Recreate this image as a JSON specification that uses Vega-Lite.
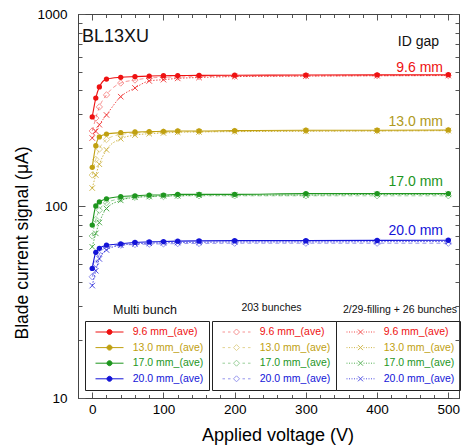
{
  "$schema": "https://vega.github.io/schema/vega-lite/v6.json",
  "width": 381,
  "height": 384,
  "autosize": {"type": "none"},
  "padding": {"left": 78, "top": 14, "right": 4, "bottom": 48},
  "config": {"view": {"stroke": "#444"}, "font": "Liberation Sans"},
  "datasets": {
    "d": [
      {"g":"M","k":"9.6 mm_(ave)","v":0,"y":291},{"g":"M","k":"9.6 mm_(ave)","v":5,"y":365},{"g":"M","k":"9.6 mm_(ave)","v":10,"y":417},{"g":"M","k":"9.6 mm_(ave)","v":20,"y":458},{"g":"M","k":"9.6 mm_(ave)","v":40,"y":468},{"g":"M","k":"9.6 mm_(ave)","v":60,"y":472},{"g":"M","k":"9.6 mm_(ave)","v":80,"y":475},{"g":"M","k":"9.6 mm_(ave)","v":100,"y":477},{"g":"M","k":"9.6 mm_(ave)","v":120,"y":478},{"g":"M","k":"9.6 mm_(ave)","v":150,"y":479},{"g":"M","k":"9.6 mm_(ave)","v":200,"y":480},{"g":"M","k":"9.6 mm_(ave)","v":300,"y":481},{"g":"M","k":"9.6 mm_(ave)","v":400,"y":482},{"g":"M","k":"9.6 mm_(ave)","v":500,"y":483},
      {"g":"M","k":"13.0 mm_(ave)","v":0,"y":159},{"g":"M","k":"13.0 mm_(ave)","v":5,"y":206},{"g":"M","k":"13.0 mm_(ave)","v":10,"y":229},{"g":"M","k":"13.0 mm_(ave)","v":20,"y":237},{"g":"M","k":"13.0 mm_(ave)","v":40,"y":241},{"g":"M","k":"13.0 mm_(ave)","v":60,"y":243},{"g":"M","k":"13.0 mm_(ave)","v":80,"y":244},{"g":"M","k":"13.0 mm_(ave)","v":100,"y":245},{"g":"M","k":"13.0 mm_(ave)","v":120,"y":246},{"g":"M","k":"13.0 mm_(ave)","v":150,"y":246},{"g":"M","k":"13.0 mm_(ave)","v":200,"y":247},{"g":"M","k":"13.0 mm_(ave)","v":300,"y":248},{"g":"M","k":"13.0 mm_(ave)","v":400,"y":248},{"g":"M","k":"13.0 mm_(ave)","v":500,"y":249},
      {"g":"M","k":"17.0 mm_(ave)","v":0,"y":79.6},{"g":"M","k":"17.0 mm_(ave)","v":5,"y":100},{"g":"M","k":"17.0 mm_(ave)","v":10,"y":105},{"g":"M","k":"17.0 mm_(ave)","v":20,"y":109},{"g":"M","k":"17.0 mm_(ave)","v":40,"y":112},{"g":"M","k":"17.0 mm_(ave)","v":60,"y":113},{"g":"M","k":"17.0 mm_(ave)","v":80,"y":114},{"g":"M","k":"17.0 mm_(ave)","v":100,"y":114},{"g":"M","k":"17.0 mm_(ave)","v":120,"y":115},{"g":"M","k":"17.0 mm_(ave)","v":150,"y":115},{"g":"M","k":"17.0 mm_(ave)","v":200,"y":115},{"g":"M","k":"17.0 mm_(ave)","v":300,"y":116},{"g":"M","k":"17.0 mm_(ave)","v":400,"y":116},{"g":"M","k":"17.0 mm_(ave)","v":500,"y":116},
      {"g":"M","k":"20.0 mm_(ave)","v":0,"y":47.3},{"g":"M","k":"20.0 mm_(ave)","v":5,"y":57.4},{"g":"M","k":"20.0 mm_(ave)","v":10,"y":60.2},{"g":"M","k":"20.0 mm_(ave)","v":20,"y":62.5},{"g":"M","k":"20.0 mm_(ave)","v":40,"y":63.5},{"g":"M","k":"20.0 mm_(ave)","v":60,"y":64.6},{"g":"M","k":"20.0 mm_(ave)","v":80,"y":65},{"g":"M","k":"20.0 mm_(ave)","v":100,"y":65.3},{"g":"M","k":"20.0 mm_(ave)","v":120,"y":65.6},{"g":"M","k":"20.0 mm_(ave)","v":150,"y":65.8},{"g":"M","k":"20.0 mm_(ave)","v":200,"y":66},{"g":"M","k":"20.0 mm_(ave)","v":300,"y":66},{"g":"M","k":"20.0 mm_(ave)","v":400,"y":66.2},{"g":"M","k":"20.0 mm_(ave)","v":500,"y":66.3},
      {"g":"D","k":"9.6 mm_(ave)","v":0,"y":246},{"g":"D","k":"9.6 mm_(ave)","v":5,"y":287},{"g":"D","k":"9.6 mm_(ave)","v":10,"y":328},{"g":"D","k":"9.6 mm_(ave)","v":20,"y":379},{"g":"D","k":"9.6 mm_(ave)","v":40,"y":437},{"g":"D","k":"9.6 mm_(ave)","v":60,"y":453},{"g":"D","k":"9.6 mm_(ave)","v":80,"y":464},{"g":"D","k":"9.6 mm_(ave)","v":100,"y":468},{"g":"D","k":"9.6 mm_(ave)","v":120,"y":470},{"g":"D","k":"9.6 mm_(ave)","v":150,"y":472},{"g":"D","k":"9.6 mm_(ave)","v":200,"y":474},{"g":"D","k":"9.6 mm_(ave)","v":300,"y":476},{"g":"D","k":"9.6 mm_(ave)","v":400,"y":477},{"g":"D","k":"9.6 mm_(ave)","v":500,"y":478},
      {"g":"D","k":"13.0 mm_(ave)","v":0,"y":145},{"g":"D","k":"13.0 mm_(ave)","v":5,"y":175},{"g":"D","k":"13.0 mm_(ave)","v":10,"y":198},{"g":"D","k":"13.0 mm_(ave)","v":20,"y":222},{"g":"D","k":"13.0 mm_(ave)","v":40,"y":236},{"g":"D","k":"13.0 mm_(ave)","v":60,"y":240},{"g":"D","k":"13.0 mm_(ave)","v":80,"y":242},{"g":"D","k":"13.0 mm_(ave)","v":100,"y":243},{"g":"D","k":"13.0 mm_(ave)","v":120,"y":244},{"g":"D","k":"13.0 mm_(ave)","v":150,"y":244},{"g":"D","k":"13.0 mm_(ave)","v":200,"y":245},{"g":"D","k":"13.0 mm_(ave)","v":300,"y":246},{"g":"D","k":"13.0 mm_(ave)","v":400,"y":246},{"g":"D","k":"13.0 mm_(ave)","v":500,"y":247},
      {"g":"D","k":"17.0 mm_(ave)","v":0,"y":69.8},{"g":"D","k":"17.0 mm_(ave)","v":5,"y":85},{"g":"D","k":"17.0 mm_(ave)","v":10,"y":95},{"g":"D","k":"17.0 mm_(ave)","v":20,"y":104},{"g":"D","k":"17.0 mm_(ave)","v":40,"y":109},{"g":"D","k":"17.0 mm_(ave)","v":60,"y":111},{"g":"D","k":"17.0 mm_(ave)","v":80,"y":112},{"g":"D","k":"17.0 mm_(ave)","v":100,"y":112},{"g":"D","k":"17.0 mm_(ave)","v":120,"y":113},{"g":"D","k":"17.0 mm_(ave)","v":150,"y":113},{"g":"D","k":"17.0 mm_(ave)","v":200,"y":113},{"g":"D","k":"17.0 mm_(ave)","v":300,"y":113},{"g":"D","k":"17.0 mm_(ave)","v":400,"y":113},{"g":"D","k":"17.0 mm_(ave)","v":500,"y":113},
      {"g":"D","k":"20.0 mm_(ave)","v":0,"y":42.8},{"g":"D","k":"20.0 mm_(ave)","v":5,"y":50},{"g":"D","k":"20.0 mm_(ave)","v":10,"y":56},{"g":"D","k":"20.0 mm_(ave)","v":20,"y":61},{"g":"D","k":"20.0 mm_(ave)","v":40,"y":62.5},{"g":"D","k":"20.0 mm_(ave)","v":60,"y":63},{"g":"D","k":"20.0 mm_(ave)","v":80,"y":63.3},{"g":"D","k":"20.0 mm_(ave)","v":100,"y":63.5},{"g":"D","k":"20.0 mm_(ave)","v":120,"y":63.7},{"g":"D","k":"20.0 mm_(ave)","v":150,"y":63.8},{"g":"D","k":"20.0 mm_(ave)","v":200,"y":64},{"g":"D","k":"20.0 mm_(ave)","v":300,"y":64},{"g":"D","k":"20.0 mm_(ave)","v":400,"y":64},{"g":"D","k":"20.0 mm_(ave)","v":500,"y":64},
      {"g":"X","k":"9.6 mm_(ave)","v":0,"y":226},{"g":"X","k":"9.6 mm_(ave)","v":5,"y":245},{"g":"X","k":"9.6 mm_(ave)","v":10,"y":265},{"g":"X","k":"9.6 mm_(ave)","v":20,"y":298},{"g":"X","k":"9.6 mm_(ave)","v":40,"y":371},{"g":"X","k":"9.6 mm_(ave)","v":60,"y":412},{"g":"X","k":"9.6 mm_(ave)","v":80,"y":448},{"g":"X","k":"9.6 mm_(ave)","v":100,"y":455},{"g":"X","k":"9.6 mm_(ave)","v":120,"y":462},{"g":"X","k":"9.6 mm_(ave)","v":150,"y":467},{"g":"X","k":"9.6 mm_(ave)","v":200,"y":472},{"g":"X","k":"9.6 mm_(ave)","v":300,"y":475},{"g":"X","k":"9.6 mm_(ave)","v":400,"y":477},{"g":"X","k":"9.6 mm_(ave)","v":500,"y":478},
      {"g":"X","k":"13.0 mm_(ave)","v":0,"y":124},{"g":"X","k":"13.0 mm_(ave)","v":5,"y":145},{"g":"X","k":"13.0 mm_(ave)","v":10,"y":165},{"g":"X","k":"13.0 mm_(ave)","v":20,"y":196},{"g":"X","k":"13.0 mm_(ave)","v":40,"y":224},{"g":"X","k":"13.0 mm_(ave)","v":60,"y":234},{"g":"X","k":"13.0 mm_(ave)","v":80,"y":238},{"g":"X","k":"13.0 mm_(ave)","v":100,"y":240},{"g":"X","k":"13.0 mm_(ave)","v":120,"y":242},{"g":"X","k":"13.0 mm_(ave)","v":150,"y":243},{"g":"X","k":"13.0 mm_(ave)","v":200,"y":244},{"g":"X","k":"13.0 mm_(ave)","v":300,"y":245},{"g":"X","k":"13.0 mm_(ave)","v":400,"y":246},{"g":"X","k":"13.0 mm_(ave)","v":500,"y":247},
      {"g":"X","k":"17.0 mm_(ave)","v":0,"y":61.3},{"g":"X","k":"17.0 mm_(ave)","v":5,"y":72},{"g":"X","k":"17.0 mm_(ave)","v":10,"y":82},{"g":"X","k":"17.0 mm_(ave)","v":20,"y":97},{"g":"X","k":"17.0 mm_(ave)","v":40,"y":107},{"g":"X","k":"17.0 mm_(ave)","v":60,"y":111},{"g":"X","k":"17.0 mm_(ave)","v":80,"y":112},{"g":"X","k":"17.0 mm_(ave)","v":100,"y":113},{"g":"X","k":"17.0 mm_(ave)","v":120,"y":113},{"g":"X","k":"17.0 mm_(ave)","v":150,"y":114},{"g":"X","k":"17.0 mm_(ave)","v":200,"y":114},{"g":"X","k":"17.0 mm_(ave)","v":300,"y":114},{"g":"X","k":"17.0 mm_(ave)","v":400,"y":115},{"g":"X","k":"17.0 mm_(ave)","v":500,"y":115},
      {"g":"X","k":"20.0 mm_(ave)","v":0,"y":38.5},{"g":"X","k":"20.0 mm_(ave)","v":5,"y":46},{"g":"X","k":"20.0 mm_(ave)","v":10,"y":53},{"g":"X","k":"20.0 mm_(ave)","v":20,"y":59},{"g":"X","k":"20.0 mm_(ave)","v":40,"y":62.5},{"g":"X","k":"20.0 mm_(ave)","v":60,"y":63.5},{"g":"X","k":"20.0 mm_(ave)","v":80,"y":64},{"g":"X","k":"20.0 mm_(ave)","v":100,"y":64.3},{"g":"X","k":"20.0 mm_(ave)","v":120,"y":64.5},{"g":"X","k":"20.0 mm_(ave)","v":150,"y":64.7},{"g":"X","k":"20.0 mm_(ave)","v":200,"y":65},{"g":"X","k":"20.0 mm_(ave)","v":300,"y":65},{"g":"X","k":"20.0 mm_(ave)","v":400,"y":65.2},{"g":"X","k":"20.0 mm_(ave)","v":500,"y":65.3}
    ]
  },
  "resolve": {
    "scale": {"color": "independent"},
    "axis": {"x": "independent", "y": "independent"},
    "legend": {"color": "independent"}
  },
  "layer": [
    {
      "data": {"name": "d"},
      "transform": [{"filter": "datum.g === 'D'"}],
      "encoding": {
        "x": {"field": "v", "type": "quantitative", "scale": {"domain": [-20, 515], "nice": false, "zero": false}, "axis": null},
        "y": {"field": "y", "type": "quantitative", "scale": {"type": "log", "domain": [10, 1000], "nice": false}, "axis": null},
        "color": {
          "field": "k", "type": "nominal",
          "scale": {"domain": ["9.6 mm_(ave)", "13.0 mm_(ave)", "17.0 mm_(ave)", "20.0 mm_(ave)"], "range": ["#ee1111", "#c0a010", "#1e961e", "#1414d8"]},
          "legend": {
            "orient": "none", "legendX": 134, "legendY": 307, "title": null,
            "strokeColor": "#222", "padding": 5.5,
            "symbolType": "M-2.8,0H-2.3M-1.7,0H-1.2M1.2,0H1.7M2.3,0H2.8M0,-0.6L0.6,0L0,0.6L-0.6,0Z",
            "symbolSize": 100, "symbolStrokeWidth": 1, "symbolOffset": 13.5, "symbolOpacity": 0.45,
            "labelOffset": 17.7, "labelFontSize": 10.5, "labelFont": "Liberation Sans", "rowPadding": 4.6, "labelLimit": 200,
            "encode": {
              "labels": {"update": {"fill": [{"test": "datum.value === '9.6 mm_(ave)'", "value": "#ee1111"}, {"test": "datum.value === '13.0 mm_(ave)'", "value": "#c0a010"}, {"test": "datum.value === '17.0 mm_(ave)'", "value": "#1e961e"}, {"value": "#1414d8"}]}}
            }
          }
        }
      },
      "layer": [
        {"mark": {"type": "line", "strokeWidth": 1, "strokeDash": [4, 3], "opacity": 0.45, "interpolate": "monotone"}},
        {"mark": {"type": "point", "shape": "diamond", "filled": false, "size": 40, "strokeWidth": 1, "opacity": 0.45}}
      ]
    },
    {
      "data": {"name": "d"},
      "transform": [{"filter": "datum.g === 'X'"}],
      "encoding": {
        "x": {"field": "v", "type": "quantitative", "scale": {"domain": [-20, 515], "nice": false, "zero": false}, "axis": null},
        "y": {"field": "y", "type": "quantitative", "scale": {"type": "log", "domain": [10, 1000], "nice": false}, "axis": null},
        "color": {
          "field": "k", "type": "nominal",
          "scale": {"domain": ["9.6 mm_(ave)", "13.0 mm_(ave)", "17.0 mm_(ave)", "20.0 mm_(ave)"], "range": ["#ee1111", "#c0a010", "#1e961e", "#1414d8"]},
          "legend": {
            "orient": "none", "legendX": 258, "legendY": 307, "title": null,
            "strokeColor": "#222", "padding": 5.5,
            "symbolType": "M-2.8,0H-2.6M-2.3,0H-2.1M-1.8,0H-1.6M-1.3,0H-1.1M-0.8,0H-0.6M0.6,0H0.8M1.1,0H1.3M1.6,0H1.8M2.1,0H2.3M2.6,0H2.8M-0.5,-0.5L0.5,0.5M-0.5,0.5L0.5,-0.5",
            "symbolSize": 100, "symbolStrokeWidth": 1, "symbolOffset": 13.5, "symbolOpacity": 0.75,
            "labelOffset": 17.7, "labelFontSize": 10.5, "labelFont": "Liberation Sans", "rowPadding": 4.6, "labelLimit": 200,
            "encode": {
              "labels": {"update": {"fill": [{"test": "datum.value === '9.6 mm_(ave)'", "value": "#ee1111"}, {"test": "datum.value === '13.0 mm_(ave)'", "value": "#c0a010"}, {"test": "datum.value === '17.0 mm_(ave)'", "value": "#1e961e"}, {"value": "#1414d8"}]}}
            }
          }
        }
      },
      "layer": [
        {"mark": {"type": "line", "strokeWidth": 1, "strokeDash": [1.5, 1.5], "opacity": 0.75, "interpolate": "monotone"}},
        {"mark": {"type": "point", "shape": "M-1,-1L1,1M-1,1L1,-1", "filled": false, "size": 30, "strokeWidth": 1, "opacity": 0.75}}
      ]
    },
    {
      "data": {"name": "d"},
      "transform": [{"filter": "datum.g === 'M'"}],
      "encoding": {
        "x": {
          "field": "v", "type": "quantitative", "scale": {"domain": [-20, 515], "nice": false, "zero": false},
          "axis": {
            "orient": "bottom", "values": [0, 20, 40, 60, 80, 100, 120, 140, 160, 180, 200, 220, 240, 260, 280, 300, 320, 340, 360, 380, 400, 420, 440, 460, 480, 500],
            "labelExpr": "datum.value % 100 === 0 ? datum.label : ''",
            "tickSize": {"condition": {"test": "datum.value % 100 === 0", "value": -6}, "value": -3.5},
            "tickColor": "#555", "domainColor": "#444", "grid": false,
            "labelFontSize": 13.5, "labelColor": "#000", "labelPadding": 10, "labelFlush": false, "labelOverlap": false,
            "title": "Applied voltage (V)", "titleFontSize": 18, "titleFontWeight": "normal", "titleColor": "#000",
            "titleX": 199.5, "titleY": 37, "titleBaseline": "middle", "titleAlign": "center"
          }
        },
        "y": {
          "field": "y", "type": "quantitative", "scale": {"type": "log", "domain": [10, 1000], "nice": false},
          "axis": {
            "orient": "left", "values": [10, 20, 30, 40, 50, 60, 70, 80, 90, 100, 200, 300, 400, 500, 600, 700, 800, 900, 1000],
            "format": "d",
            "labelExpr": "(datum.value === 10 || datum.value === 100 || datum.value === 1000) ? datum.label : ''",
            "tickSize": {"condition": {"test": "datum.value === 10 || datum.value === 100 || datum.value === 1000", "value": -7}, "value": -4},
            "tickColor": "#555", "domainColor": "#444", "grid": false,
            "labelFontSize": 13.5, "labelColor": "#000", "labelPadding": 18, "labelFlush": false, "labelOverlap": false,
            "title": "Blade current signal (μA)", "titleFontSize": 17.5, "titleFontWeight": "normal", "titleColor": "#000",
            "titleX": -56, "titleY": 228.5, "titleBaseline": "middle", "titleAlign": "center", "titleAngle": -90
          }
        },
        "color": {
          "field": "k", "type": "nominal",
          "scale": {"domain": ["9.6 mm_(ave)", "13.0 mm_(ave)", "17.0 mm_(ave)", "20.0 mm_(ave)"], "range": ["#ee1111", "#c0a010", "#1e961e", "#1414d8"]},
          "legend": {
            "orient": "none", "legendX": 7, "legendY": 307, "title": null,
            "strokeColor": "#222", "padding": 5.5,
            "symbolType": "M-2.8,0H2.8M-0.5,0A0.5,0.5 0 1,0 0.5,0A0.5,0.5 0 1,0 -0.5,0",
            "symbolSize": 100, "symbolStrokeWidth": 1, "symbolOffset": 13.5,
            "labelOffset": 17.7, "labelFontSize": 10.5, "labelFont": "Liberation Sans", "rowPadding": 4.6, "labelLimit": 200,
            "encode": {
              "labels": {"update": {"fill": [{"test": "datum.value === '9.6 mm_(ave)'", "value": "#ee1111"}, {"test": "datum.value === '13.0 mm_(ave)'", "value": "#c0a010"}, {"test": "datum.value === '17.0 mm_(ave)'", "value": "#1e961e"}, {"value": "#1414d8"}]}}
            }
          }
        }
      },
      "layer": [
        {"mark": {"type": "line", "strokeWidth": 1.1, "interpolate": "monotone"}},
        {"mark": {"type": "point", "shape": "circle", "filled": true, "size": 28, "opacity": 1}}
      ]
    },
    {
      "data": {"name": "d"},
      "transform": [{"filter": "datum.g === 'M'"}],
      "mark": {"type": "point", "opacity": 0},
      "encoding": {
        "x": {
          "field": "v", "type": "quantitative", "scale": {"domain": [-20, 515], "nice": false, "zero": false},
          "axis": {
            "orient": "top", "values": [0, 20, 40, 60, 80, 100, 120, 140, 160, 180, 200, 220, 240, 260, 280, 300, 320, 340, 360, 380, 400, 420, 440, 460, 480, 500],
            "labels": false, "title": null, "grid": false,
            "tickSize": {"condition": {"test": "datum.value % 100 === 0", "value": -6}, "value": -3.5},
            "tickColor": "#555", "domainColor": "#444"
          }
        },
        "y": {
          "field": "y", "type": "quantitative", "scale": {"type": "log", "domain": [10, 1000], "nice": false},
          "axis": {
            "orient": "right", "values": [10, 20, 30, 40, 50, 60, 70, 80, 90, 100, 200, 300, 400, 500, 600, 700, 800, 900, 1000],
            "labels": false, "title": null, "grid": false,
            "tickSize": {"condition": {"test": "datum.value === 10 || datum.value === 100 || datum.value === 1000", "value": -7}, "value": -4},
            "tickColor": "#555", "domainColor": "#444"
          }
        }
      }
    },
    {
      "data": {"values": [
        {"v": 492.5, "y": 524, "t": "9.6 mm", "k": "9.6"},
        {"v": 492.5, "y": 275, "t": "13.0 mm", "k": "13.0"},
        {"v": 492.5, "y": 133, "t": "17.0 mm", "k": "17.0"},
        {"v": 492.5, "y": 74.3, "t": "20.0 mm", "k": "20.0"}
      ]},
      "mark": {"type": "text", "align": "right", "baseline": "middle", "fontSize": 14, "font": "Liberation Sans"},
      "encoding": {
        "x": {"field": "v", "type": "quantitative", "scale": {"domain": [-20, 515], "nice": false, "zero": false}, "axis": null},
        "y": {"field": "y", "type": "quantitative", "scale": {"type": "log", "domain": [10, 1000], "nice": false}, "axis": null},
        "text": {"field": "t"},
        "color": {"field": "k", "type": "nominal", "scale": {"domain": ["9.6", "13.0", "17.0", "20.0"], "range": ["#ee1111", "#b09a20", "#1e961e", "#1414d8"]}, "legend": null}
      }
    },
    {
      "data": {"values": [{"v": -14.4, "y": 759, "t": "BL13XU"}]},
      "mark": {"type": "text", "align": "left", "baseline": "middle", "fontSize": 18, "font": "Liberation Sans", "color": "#111"},
      "encoding": {
        "x": {"field": "v", "type": "quantitative", "scale": {"domain": [-20, 515], "nice": false, "zero": false}, "axis": null},
        "y": {"field": "y", "type": "quantitative", "scale": {"type": "log", "domain": [10, 1000], "nice": false}, "axis": null},
        "text": {"field": "t"}
      }
    },
    {
      "data": {"values": [{"v": 487, "y": 714, "t": "ID gap"}]},
      "mark": {"type": "text", "align": "right", "baseline": "middle", "fontSize": 14, "font": "Liberation Sans", "color": "#111"},
      "encoding": {
        "x": {"field": "v", "type": "quantitative", "scale": {"domain": [-20, 515], "nice": false, "zero": false}, "axis": null},
        "y": {"field": "y", "type": "quantitative", "scale": {"type": "log", "domain": [10, 1000], "nice": false}, "axis": null},
        "text": {"field": "t"}
      }
    },
    {
      "data": {"values": [{"v": 74, "y": 28.7, "t": "Multi bunch"}]},
      "mark": {"type": "text", "align": "center", "baseline": "middle", "fontSize": 12.5, "font": "Liberation Sans", "color": "#111"},
      "encoding": {
        "x": {"field": "v", "type": "quantitative", "scale": {"domain": [-20, 515], "nice": false, "zero": false}, "axis": null},
        "y": {"field": "y", "type": "quantitative", "scale": {"type": "log", "domain": [10, 1000], "nice": false}, "axis": null},
        "text": {"field": "t"}
      }
    },
    {
      "data": {"values": [{"v": 251.7, "y": 29.4, "t": "203 bunches"}, {"v": 432.2, "y": 28.7, "t": "2/29-filling + 26 bunches"}]},
      "mark": {"type": "text", "align": "center", "baseline": "middle", "fontSize": 10.5, "font": "Liberation Sans", "color": "#111"},
      "encoding": {
        "x": {"field": "v", "type": "quantitative", "scale": {"domain": [-20, 515], "nice": false, "zero": false}, "axis": null},
        "y": {"field": "y", "type": "quantitative", "scale": {"type": "log", "domain": [10, 1000], "nice": false}, "axis": null},
        "text": {"field": "t"}
      }
    }
  ]
}
